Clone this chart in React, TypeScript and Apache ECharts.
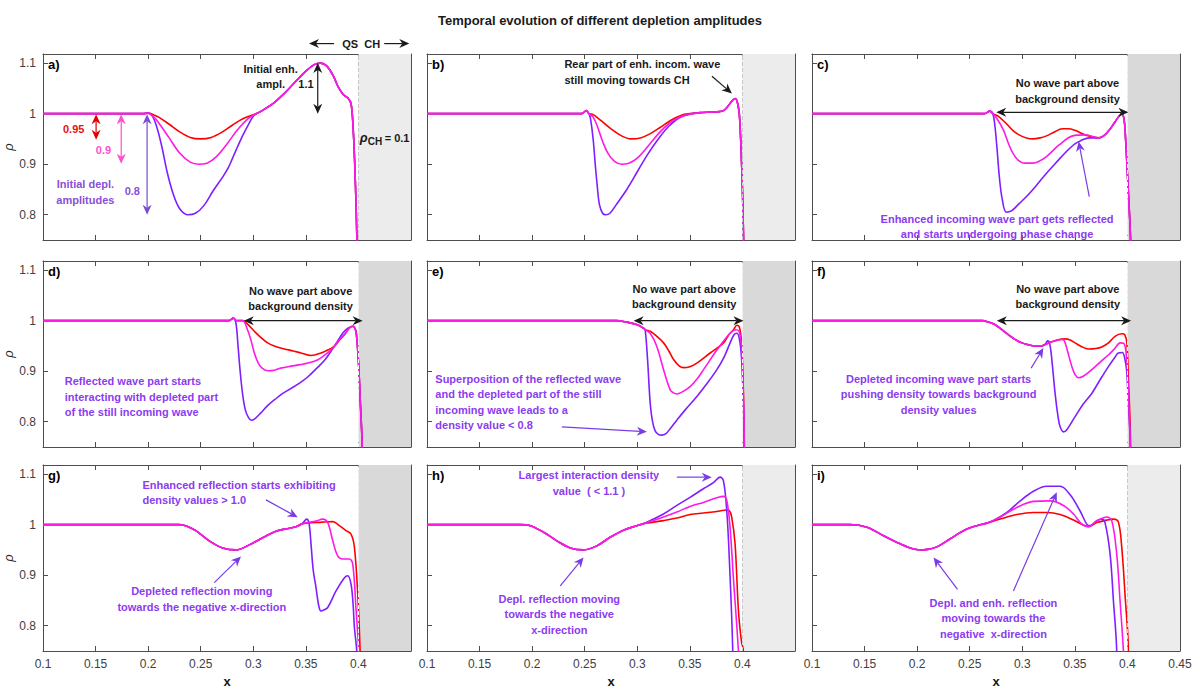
import React, { useEffect, useRef } from "react";
import * as echarts from "echarts";

const FONT = '"Liberation Sans", Arial, sans-serif';
const RED = "#ff0000";
const MAG = "#ff19e6";
const PUR = "#7f1fff";
const TXT_PUR = "#8c3cf0";
const ARR_PUR = "#7a3ce6";
const BLK = "#1a1a1a";
const FRAME = "#4d4d4d";

const PANEL_LABELS = ["a)", "b)", "c)", "d)", "e)", "f)", "g)", "h)", "i)"];
const Y_TICKS = [0.8, 0.9, 1, 1.1];
const SHADE = ["#ececec", "#ececec", "#d9d9d9", "#d9d9d9", "#d9d9d9", "#d9d9d9", "#d9d9d9", "#ececec", "#ececec"];

// a)
const aHead = [[0.1, 1], [0.195, 1], [0.2, 1.001]];
const aRed = [[0.205, 0.998], [0.21, 0.993], [0.22, 0.979], [0.23, 0.964], [0.24, 0.953], [0.25, 0.95], [0.26, 0.953], [0.27, 0.963], [0.28, 0.977], [0.29, 0.99], [0.3, 0.998]];
const aMag = [[0.205, 0.994], [0.21, 0.982], [0.22, 0.952], [0.23, 0.922], [0.24, 0.904], [0.248, 0.9], [0.256, 0.902], [0.265, 0.915], [0.275, 0.94], [0.285, 0.968], [0.295, 0.99], [0.3, 0.997]];
const aPur = [[0.204, 0.995], [0.208, 0.975], [0.213, 0.935], [0.218, 0.885], [0.224, 0.84], [0.23, 0.812], [0.238, 0.8], [0.245, 0.803], [0.253, 0.818], [0.262, 0.848], [0.27, 0.872], [0.276, 0.892], [0.283, 0.925], [0.29, 0.957], [0.295, 0.977], [0.3, 0.995]];
const aTail = [[0.305, 1.002], [0.31, 1.008], [0.32, 1.022], [0.33, 1.041], [0.34, 1.063], [0.35, 1.084], [0.358, 1.097], [0.364, 1.1], [0.37, 1.094], [0.376, 1.075], [0.381, 1.052], [0.386, 1.037], [0.39, 1.031], [0.393, 1.02], [0.395, 0.97], [0.3965, 0.9], [0.398, 0.8], [0.399, 0.7]];

// b)
const bHead = [[0.1, 1], [0.247, 1], [0.2515, 1.006], [0.254, 1.0]];
const bRed = [[0.258, 0.998], [0.265, 0.987], [0.275, 0.97], [0.285, 0.956], [0.294, 0.95], [0.303, 0.952], [0.312, 0.96], [0.322, 0.973], [0.332, 0.987], [0.342, 0.997], [0.35, 1.0]];
const bMag = [[0.258, 0.993], [0.262, 0.975], [0.267, 0.945], [0.272, 0.922], [0.278, 0.906], [0.285, 0.9], [0.292, 0.902], [0.3, 0.912], [0.31, 0.935], [0.32, 0.96], [0.33, 0.98], [0.34, 0.993], [0.35, 0.999]];
const bPur = [[0.2555, 0.99], [0.258, 0.95], [0.26, 0.9], [0.262, 0.855], [0.264, 0.82], [0.267, 0.803], [0.27, 0.8], [0.274, 0.803], [0.28, 0.82], [0.29, 0.85], [0.3, 0.885], [0.31, 0.92], [0.32, 0.95], [0.33, 0.975], [0.34, 0.992], [0.35, 0.999]];
const bTail = [[0.36, 1.002], [0.37, 1.003], [0.378, 1.004], [0.382, 1.006], [0.386, 1.014], [0.39, 1.025], [0.393, 1.03], [0.395, 1.024], [0.397, 1.0], [0.3985, 0.94], [0.4, 0.85], [0.401, 0.76], [0.4015, 0.7]];

// c)
const cHead = [[0.1, 1], [0.264, 1], [0.269, 1.005], [0.272, 1.0]];
const cRed = [[0.277, 0.995], [0.285, 0.98], [0.291, 0.967], [0.297, 0.958], [0.304, 0.952], [0.31, 0.95], [0.317, 0.952], [0.323, 0.956], [0.33, 0.963], [0.338, 0.97], [0.344, 0.97], [0.35, 0.967], [0.36, 0.958], [0.373, 0.952]];
const cMag = [[0.276, 0.99], [0.282, 0.968], [0.287, 0.94], [0.291, 0.922], [0.296, 0.908], [0.302, 0.902], [0.31, 0.902], [0.317, 0.907], [0.323, 0.915], [0.335, 0.938], [0.348, 0.956], [0.36, 0.958], [0.373, 0.952]];
const cPur = [[0.274, 0.975], [0.276, 0.93], [0.2784, 0.87], [0.281, 0.83], [0.2847, 0.805], [0.29, 0.808], [0.297, 0.822], [0.304, 0.836], [0.313, 0.857], [0.323, 0.882], [0.333, 0.905], [0.342, 0.925], [0.35, 0.94], [0.356, 0.947], [0.364, 0.952], [0.373, 0.952]];
const cTail = [[0.378, 0.957], [0.383, 0.968], [0.388, 0.983], [0.392, 0.995], [0.395, 1.0], [0.397, 0.985], [0.398, 0.96], [0.4, 0.88], [0.402, 0.8], [0.403, 0.75], [0.4035, 0.7]];

// d)
const dHead = [[0.1, 1], [0.277, 1], [0.281, 1.005]];
const dRed = [[0.284, 1.0], [0.29, 1.0], [0.295, 0.992], [0.301, 0.979], [0.307, 0.967], [0.3136, 0.956], [0.32, 0.95], [0.3295, 0.944], [0.338, 0.94], [0.3454, 0.936], [0.355, 0.931], [0.3645, 0.936], [0.372, 0.943], [0.377, 0.949], [0.383, 0.964], [0.387, 0.973], [0.39, 0.982]];
const dMag = [[0.284, 1.0], [0.29, 1.0], [0.2945, 0.982], [0.298, 0.96], [0.301, 0.936], [0.305, 0.915], [0.309, 0.905], [0.314, 0.901], [0.32, 0.902], [0.326, 0.906], [0.336, 0.91], [0.345, 0.913], [0.352, 0.916], [0.361, 0.922], [0.37, 0.935], [0.377, 0.949], [0.383, 0.965], [0.387, 0.973], [0.39, 0.982]];
const dPur = [[0.2835, 0.995], [0.2855, 0.95], [0.2875, 0.9], [0.29, 0.852], [0.2925, 0.823], [0.2955, 0.808], [0.298, 0.803], [0.301, 0.805], [0.307, 0.817], [0.3136, 0.832], [0.32, 0.843], [0.328, 0.856], [0.336, 0.866], [0.345, 0.878], [0.352, 0.889], [0.36, 0.905], [0.368, 0.922], [0.375, 0.943], [0.38, 0.959], [0.385, 0.975], [0.39, 0.985]];
const dTail = [[0.393, 0.988], [0.395, 0.989], [0.397, 0.983], [0.398, 0.975], [0.4, 0.92], [0.402, 0.83], [0.4035, 0.76], [0.404, 0.7]];

// e)
const eHead = [[0.1, 1], [0.28, 1], [0.29, 0.997], [0.3, 0.992], [0.306, 0.985]];
const eRed = [[0.3075, 0.982], [0.3123, 0.979], [0.318, 0.97], [0.325, 0.956], [0.33, 0.94], [0.3345, 0.923], [0.34, 0.91], [0.344, 0.907], [0.35, 0.909], [0.3567, 0.916], [0.3693, 0.936], [0.382, 0.956], [0.387, 0.972], [0.3915, 0.982], [0.3947, 0.991], [0.397, 0.988], [0.399, 0.96], [0.4005, 0.89], [0.4015, 0.8], [0.402, 0.7]];
const eMag = [[0.3075, 0.982], [0.3123, 0.975], [0.3186, 0.949], [0.325, 0.903], [0.3313, 0.863], [0.3345, 0.857], [0.3376, 0.855], [0.342, 0.858], [0.35, 0.869], [0.357, 0.885], [0.363, 0.903], [0.3757, 0.942], [0.3883, 0.975], [0.394, 0.982], [0.397, 0.978], [0.399, 0.95], [0.4005, 0.88], [0.4015, 0.8], [0.402, 0.7]];
const ePur = [[0.3075, 0.982], [0.3098, 0.922], [0.3123, 0.836], [0.3145, 0.8], [0.317, 0.782], [0.32, 0.775], [0.323, 0.7735], [0.327, 0.776], [0.332, 0.788], [0.3376, 0.803], [0.345, 0.822], [0.3567, 0.85], [0.365, 0.872], [0.3757, 0.903], [0.383, 0.93], [0.3883, 0.956], [0.392, 0.972], [0.3947, 0.975], [0.397, 0.965], [0.399, 0.93], [0.4005, 0.86], [0.4015, 0.78], [0.402, 0.7]];

// f)
const fHead = [[0.1, 1], [0.262, 1], [0.268, 0.997], [0.2742, 0.992], [0.28, 0.983], [0.2869, 0.972], [0.293, 0.963], [0.2996, 0.956], [0.306, 0.952], [0.3122, 0.95], [0.3186, 0.95]];
const fRed = [[0.322, 0.953], [0.328, 0.958], [0.334, 0.962], [0.3407, 0.964], [0.345, 0.962], [0.3502, 0.956], [0.356, 0.949], [0.3629, 0.944], [0.37, 0.945], [0.3756, 0.948], [0.382, 0.956], [0.3882, 0.969], [0.3946, 0.974], [0.3975, 0.972], [0.3995, 0.955], [0.401, 0.88], [0.4025, 0.8], [0.4035, 0.7]];
const fMag = [[0.322, 0.953], [0.328, 0.958], [0.3344, 0.962], [0.3376, 0.963], [0.34, 0.96], [0.343, 0.94], [0.347, 0.91], [0.3502, 0.893], [0.3534, 0.887], [0.358, 0.89], [0.3661, 0.903], [0.3756, 0.921], [0.3819, 0.932], [0.388, 0.945], [0.393, 0.956], [0.3965, 0.955], [0.3985, 0.94], [0.4, 0.9], [0.4015, 0.83], [0.4025, 0.77], [0.403, 0.7]];
const fPur = [[0.322, 0.954], [0.324, 0.96], [0.326, 0.955], [0.3281, 0.923], [0.3312, 0.856], [0.334, 0.81], [0.336, 0.79], [0.3392, 0.78], [0.342, 0.783], [0.3502, 0.81], [0.358, 0.835], [0.3661, 0.856], [0.374, 0.883], [0.3819, 0.909], [0.388, 0.927], [0.3914, 0.936], [0.3952, 0.937], [0.3975, 0.925], [0.3993, 0.9], [0.401, 0.83], [0.4025, 0.77], [0.403, 0.7]];

// g)
const gHead = [[0.1, 1], [0.2295, 1], [0.237, 0.997], [0.2454, 0.988], [0.2581, 0.968], [0.2708, 0.954], [0.2835, 0.95], [0.2962, 0.96], [0.3089, 0.974], [0.3216, 0.987], [0.3343, 0.993], [0.3406, 0.996]];
const gRed = [[0.347, 1.002], [0.366, 1.005], [0.3756, 1.006], [0.3819, 0.998], [0.3883, 0.988], [0.393, 0.981], [0.3962, 0.955], [0.3994, 0.86], [0.4016, 0.75], [0.402, 0.7]];
const gMag = [[0.347, 1.002], [0.3597, 1.007], [0.366, 1.011], [0.3708, 1.004], [0.3756, 0.968], [0.3803, 0.938], [0.3851, 0.932], [0.3914, 0.932], [0.3946, 0.922], [0.3978, 0.83], [0.4003, 0.75], [0.401, 0.7]];
const gPur = [[0.3438, 0.998], [0.347, 1.003], [0.3508, 1.011], [0.353, 1.003], [0.3549, 0.962], [0.357, 0.91], [0.3597, 0.875], [0.3622, 0.84], [0.3644, 0.829], [0.367, 0.831], [0.3708, 0.836], [0.3787, 0.869], [0.3867, 0.895], [0.3898, 0.899], [0.393, 0.882], [0.395, 0.84], [0.3962, 0.796], [0.3984, 0.75], [0.399, 0.7]];

// h)
const hHead = [[0.1, 1], [0.1887, 1], [0.1982, 0.998], [0.2109, 0.985], [0.2235, 0.968], [0.2362, 0.954], [0.2489, 0.95], [0.2615, 0.958], [0.2742, 0.975], [0.2869, 0.989], [0.2996, 0.998], [0.306, 1.002]];
const hRed = [[0.3122, 1.004], [0.3249, 1.008], [0.3376, 1.013], [0.3502, 1.02], [0.3629, 1.023], [0.3756, 1.026], [0.3851, 1.029], [0.3875, 1.028], [0.3898, 1.015], [0.393, 0.962], [0.3962, 0.83], [0.399, 0.77], [0.4009, 0.75], [0.401, 0.7]];
const hMag = [[0.3122, 1.006], [0.3249, 1.015], [0.3376, 1.025], [0.3502, 1.036], [0.3629, 1.044], [0.3756, 1.053], [0.3819, 1.056], [0.3851, 1.048], [0.3882, 0.995], [0.3914, 0.895], [0.3962, 0.75], [0.397, 0.7]];
const hPur = [[0.3122, 1.008], [0.3249, 1.021], [0.3376, 1.038], [0.3502, 1.054], [0.3629, 1.071], [0.3724, 1.083], [0.3787, 1.094], [0.3819, 1.087], [0.3851, 1.028], [0.3876, 0.929], [0.3908, 0.75], [0.391, 0.7]];

// i)
const iHead = [[0.1, 1], [0.1364, 1], [0.1523, 0.995], [0.1681, 0.978], [0.1839, 0.962], [0.1966, 0.952], [0.2061, 0.95], [0.2188, 0.956], [0.2315, 0.972], [0.2441, 0.988], [0.2568, 0.998], [0.2663, 1.003]];
const iRed = [[0.279, 1.011], [0.2948, 1.02], [0.3106, 1.024], [0.3233, 1.024], [0.336, 1.02], [0.3487, 1.009], [0.3582, 0.999], [0.3629, 0.996], [0.3708, 1.004], [0.3803, 1.009], [0.3867, 1.011], [0.3914, 1.005], [0.3946, 0.955], [0.3977, 0.862], [0.4009, 0.75], [0.401, 0.7]];
const iMag = [[0.279, 1.015], [0.2948, 1.034], [0.3106, 1.046], [0.3265, 1.047], [0.3391, 1.038], [0.3487, 1.021], [0.3566, 1.001], [0.3629, 0.996], [0.3708, 1.007], [0.3803, 1.015], [0.3851, 1.008], [0.3898, 0.942], [0.393, 0.849], [0.3962, 0.75], [0.397, 0.7]];
const iPur = [[0.2726, 1.008], [0.2853, 1.024], [0.298, 1.047], [0.3106, 1.066], [0.3233, 1.076], [0.336, 1.076], [0.3455, 1.059], [0.355, 1.027], [0.3613, 1.001], [0.3645, 0.998], [0.3708, 1.008], [0.3756, 1.011], [0.3787, 1.004], [0.3835, 0.942], [0.3867, 0.849], [0.3898, 0.75], [0.39, 0.7]];

const PANELS = [
  { red: [...aHead, ...aRed, ...aTail], mag: [...aHead, ...aMag, ...aTail], pur: [...aHead, ...aPur, ...aTail] },
  { red: [...bHead, ...bRed, ...bTail], mag: [...bHead, ...bMag, ...bTail], pur: [...bHead, ...bPur, ...bTail] },
  { red: [...cHead, ...cRed, ...cTail], mag: [...cHead, ...cMag, ...cTail], pur: [...cHead, ...cPur, ...cTail] },
  { red: [...dHead, ...dRed, ...dTail], mag: [...dHead, ...dMag, ...dTail], pur: [...dHead, ...dPur, ...dTail] },
  { red: [...eHead, ...eRed], mag: [...eHead, ...eMag], pur: [...eHead, ...ePur] },
  { red: [...fHead, ...fRed], mag: [...fHead, ...fMag], pur: [...fHead, ...fPur] },
  { red: [...gHead, ...gRed], mag: [...gHead, ...gMag], pur: [...gHead, ...gPur] },
  { red: [...hHead, ...hRed], mag: [...hHead, ...hMag], pur: [...hHead, ...hPur] },
  { red: [...iHead, ...iRed], mag: [...iHead, ...iMag], pur: [...iHead, ...iPur] },
];

// annotations (panel index, data coordinates)
const NOTES = [
  { p: 0, x: 0.1292, y: 0.9703, t: "0.95", c: "#e81010", a: "center" },
  { p: 0, x: 0.1575, y: 0.9287, t: "0.9", c: "#ff4fd0", a: "center" },
  { p: 0, x: 0.1849, y: 0.8475, t: "0.8", c: "#8a4fd6", a: "center" },
  { p: 0, x: 0.1403, y: 0.8446, t: "Initial depl.\namplitudes", c: "#8a4fd6", a: "center" },
  { p: 0, x: 0.3165, y: 1.0739, t: "Initial enh.\nampl.", c: BLK, a: "center" },
  { p: 0, x: 0.3501, y: 1.058, t: "1.1", c: BLK, a: "center" },
  { p: 0, x: 0.4026, y: 1.1386, t: "QS  CH", c: BLK, a: "center" },
  { p: 1, x: 0.2307, y: 1.082, t: "Rear part of enh. incom. wave\nstill moving towards CH", c: BLK, a: "left" },
  { p: 2, x: 0.343, y: 1.045, t: "No wave part above\nbackground density", c: BLK, a: "center" },
  { p: 2, x: 0.276, y: 0.7765, t: "Enhanced incoming wave part gets reflected\nand starts undergoing phase change", c: TXT_PUR, a: "center" },
  { p: 3, x: 0.345, y: 1.0434, t: "No wave part above\nbackground density", c: BLK, a: "center" },
  { p: 3, x: 0.1207, y: 0.849, t: "Reflected wave part starts\ninteracting with depleted part\nof the still incoming wave", c: TXT_PUR, a: "left" },
  { p: 4, x: 0.3446, y: 1.048, t: "No wave part above\nbackground density", c: BLK, a: "center" },
  { p: 4, x: 0.1079, y: 0.8392, t: "Superposition of the reflected wave\nand the depleted part of the still\nincoming wave leads to a\ndensity value < 0.8", c: TXT_PUR, a: "left" },
  { p: 5, x: 0.3433, y: 1.048, t: "No wave part above\nbackground density", c: BLK, a: "center" },
  { p: 5, x: 0.2204, y: 0.8543, t: "Depleted incoming wave part starts\npushing density towards background\ndensity values", c: TXT_PUR, a: "center" },
  { p: 6, x: 0.1946, y: 1.064, t: "Enhanced reflection starts exhibiting\ndensity values > 1.0", c: TXT_PUR, a: "left" },
  { p: 6, x: 0.251, y: 0.8533, t: "Depleted reflection moving\ntowards the negative x-direction", c: TXT_PUR, a: "center" },
  { p: 7, x: 0.254, y: 1.0825, t: "Largest interaction density\nvalue  ( < 1.1 )", c: TXT_PUR, a: "center" },
  { p: 7, x: 0.2258, y: 0.8225, t: "Depl. reflection moving\ntowards the negative\nx-direction", c: TXT_PUR, a: "center" },
  { p: 8, x: 0.2726, y: 0.815, t: "Depl. and enh. reflection\nmoving towards the\nnegative  x-direction", c: TXT_PUR, a: "center" },
];

const ARROWS = [
  { p: 0, f: [0.1505, 0.999], t: [0.1505, 0.9485], c: "#e00000", both: true },
  { p: 0, f: [0.1744, 0.999], t: [0.1744, 0.901], c: "#ff4fd0", both: true },
  { p: 0, f: [0.199, 0.999], t: [0.199, 0.8], c: "#7b4bd1", both: true },
  { p: 0, f: [0.3613, 1.1], t: [0.3613, 1.0], c: BLK, both: true },
  { p: 0, f: [0.3768, 1.1386], t: [0.353, 1.1386], c: BLK, both: false },
  { p: 0, f: [0.4245, 1.1386], t: [0.4484, 1.1386], c: BLK, both: false },
  { p: 1, f: [0.371, 1.074], t: [0.39, 1.04], c: BLK, both: false },
  { p: 2, f: [0.2752, 1.0026], t: [0.4009, 1.0026], c: BLK, both: true },
  { p: 2, f: [0.3637, 0.8358], t: [0.3536, 0.945], c: ARR_PUR, both: false },
  { p: 3, f: [0.291, 1.0], t: [0.404, 1.0], c: BLK, both: true },
  { p: 4, f: [0.2965, 1.0], t: [0.401, 1.0], c: BLK, both: true },
  { p: 4, f: [0.2283, 0.79], t: [0.3091, 0.78], c: ARR_PUR, both: false },
  { p: 5, f: [0.2758, 1.0], t: [0.4035, 1.0], c: BLK, both: true },
  { p: 5, f: [0.3084, 0.906], t: [0.3201, 0.9457], c: ARR_PUR, both: false },
  { p: 6, f: [0.312, 1.049], t: [0.3422, 1.0146], c: ARR_PUR, both: false },
  { p: 6, f: [0.2629, 0.8854], t: [0.2883, 0.937], c: ARR_PUR, both: false },
  { p: 7, f: [0.3376, 1.094], t: [0.3708, 1.094], c: ARR_PUR, both: false },
  { p: 7, f: [0.2267, 0.8788], t: [0.2489, 0.9351], c: ARR_PUR, both: false },
  { p: 8, f: [0.2384, 0.872], t: [0.2156, 0.935], c: ARR_PUR, both: false },
  { p: 8, f: [0.2916, 0.8689], t: [0.3328, 1.0642], c: ARR_PUR, both: false },
];

const GL = [43, 427, 812];
const GT = [54, 261, 465];
const GW = 368;
const GH = 186;

function fmt(v: number) {
  return String(Math.round(v * 100) / 100);
}

function arrowEls(a: number[], b: number[], color: string, both: boolean) {
  const L = 10, W = 4.5;
  const dx = b[0] - a[0], dy = b[1] - a[1];
  const len = Math.hypot(dx, dy) || 1;
  const ux = dx / len, uy = dy / len;
  const nx = -uy, ny = ux;
  const head = (t: number[], sx: number, sy: number) => {
    const bx = t[0] - sx * L, by = t[1] - sy * L;
    const nxp = t[0] - sx * L * 0.7, nyp = t[1] - sy * L * 0.7;
    return {
      type: "polygon",
      silent: true,
      z: 101,
      shape: { points: [[t[0], t[1]], [bx + nx * W, by + ny * W], [nxp, nyp], [bx - nx * W, by - ny * W]] },
      style: { fill: color },
    };
  };
  const s = both ? [a[0] + ux * L * 0.7, a[1] + uy * L * 0.7] : a;
  const e = [b[0] - ux * L * 0.7, b[1] - uy * L * 0.7];
  const els: any[] = [
    { type: "line", silent: true, z: 100, shape: { x1: s[0], y1: s[1], x2: e[0], y2: e[1] }, style: { stroke: color, lineWidth: 1.2 } },
    head(b, ux, uy),
  ];
  if (both) els.push(head(a, -ux, -uy));
  return els;
}

function textEl(x: number, y: number, text: string, color: string, align: string, size = 11, extra: any = {}) {
  return {
    type: "text",
    silent: true,
    z: 102,
    x,
    y,
    style: {
      text,
      fill: color,
      fontSize: size,
      fontWeight: "bold",
      fontFamily: FONT,
      align,
      textAlign: align,
      verticalAlign: "middle",
      textVerticalAlign: "middle",
      lineHeight: 15.5,
      ...extra,
    },
  };
}

export default function App() {
  const ref = useRef<HTMLDivElement>(null);
  useEffect(() => {
    if (!ref.current) return;
    const chart = echarts.init(ref.current, null, { renderer: "svg" });
    const grid: any[] = [];
    const xAxis: any[] = [];
    const yAxis: any[] = [];
    const series: any[] = [];
    for (let i = 0; i < 9; i++) {
      const col = i % 3, row = Math.floor(i / 3);
      grid.push({ left: GL[col], top: GT[row], width: GW, height: GH, containLabel: false, outerBoundsMode: "none" });
      const axLine = { show: true, onZero: false, lineStyle: { color: FRAME, width: 1 } };
      const tick = { show: true, inside: true, length: 5, lineStyle: { color: FRAME } };
      const lastCol = col === 2;
      for (const pos of ["bottom", "top"]) {
        const bottom = pos === "bottom";
        xAxis.push({
          gridIndex: i,
          type: "value",
          position: pos,
          min: 0.1,
          max: 0.45,
          interval: 0.05,
          axisLine: axLine,
          axisTick: tick,
          splitLine: { show: false },
          axisLabel: {
            show: bottom && row === 2,
            margin: 7,
            fontSize: 12,
            color: "#404040",
            fontFamily: FONT,
            showMinLabel: true,
            showMaxLabel: true,
            formatter: (v: number) => (v > 0.449 && !lastCol ? "" : fmt(v)),
          },
          name: bottom && row === 2 ? "x" : "",
          nameLocation: "middle",
          nameGap: 24,
          nameTextStyle: { fontSize: 13, fontWeight: "bold", color: BLK, fontFamily: FONT },
        });
      }
      for (const pos of ["left", "right"]) {
        const left = pos === "left";
        yAxis.push({
          gridIndex: i,
          type: "value",
          position: pos,
          min: 0.75,
          max: 1.118,
          axisLine: axLine,
          axisTick: { ...tick, customValues: Y_TICKS },
          splitLine: { show: false },
          axisLabel: {
            show: left && col === 0,
            customValues: Y_TICKS,
            margin: 7,
            fontSize: 12,
            color: "#404040",
            fontFamily: FONT,
            formatter: (v: number) => fmt(v),
          },
          name: left && col === 0 ? "ρ" : "",
          nameLocation: "middle",
          nameGap: 26,
          nameRotate: 90,
          nameTextStyle: { fontSize: 13, fontStyle: "italic", color: "#262626", fontFamily: FONT },
        });
      }
      const pn = PANELS[i];
      const light = SHADE[i] === "#ececec";
      const mk = (data: number[][], color: string, first: boolean) => ({
        type: "line",
        xAxisIndex: 2 * i,
        yAxisIndex: 2 * i,
        data,
        symbol: "none",
        showSymbol: false,
        smooth: 0.35,
        silent: true,
        clip: true,
        lineStyle: { color, width: 1.6 },
        itemStyle: { color },
        emphasis: { disabled: true },
        ...(first
          ? {
              markArea: { silent: true, itemStyle: { color: SHADE[i] }, data: [[{ xAxis: 0.4 }, { xAxis: 0.45 }]] },
              markLine: {
                silent: true,
                symbol: ["none", "none"],
                label: { show: false },
                lineStyle: { type: "dashed", color: light ? "#c8c8c8" : "#f2f2f2", width: 1 },
                data: [{ xAxis: 0.4 }],
              },
            }
          : {}),
      });
      series.push(mk(pn.red, RED, true), mk(pn.pur, PUR, false), mk(pn.mag, MAG, false));
    }

    chart.setOption({
      animation: false,
      backgroundColor: "#ffffff",
      title: {
        text: "Temporal evolution of different depletion amplitudes",
        left: "center",
        top: 9,
        textStyle: { fontSize: 13, fontWeight: "bold", color: BLK, fontFamily: FONT },
      },
      grid,
      xAxis,
      yAxis,
      series,
    });

    const P = (p: number, x: number, y: number) =>
      chart.convertToPixel({ xAxisIndex: 2 * p, yAxisIndex: 2 * p } as any, [x, y]) as number[];

    const graphic: any[] = [];
    for (let i = 0; i < 9; i++) {
      const col = i % 3, row = Math.floor(i / 3);
      graphic.push(textEl(GL[col] + 5, GT[row] + 10, PANEL_LABELS[i], "#000000", "left", 13));
    }
    for (const n of NOTES) {
      const [px, py] = P(n.p, n.x, n.y);
      graphic.push(textEl(px, py, n.t, n.c, n.a));
    }
    for (const a of ARROWS) {
      graphic.push(...arrowEls(P(a.p, a.f[0], a.f[1]), P(a.p, a.t[0], a.t[1]), a.c, a.both));
    }
    const [rx, ry] = P(0, 0.4012, 0.952);
    graphic.push(textEl(rx, ry, "ρ", BLK, "left", 13, { fontStyle: "italic" }));
    graphic.push(textEl(rx + 8, ry + 4, "CH", BLK, "left", 10));
    graphic.push(textEl(rx + 25, ry, "= 0.1", BLK, "left", 11));

    chart.setOption({ graphic });
    return () => chart.dispose();
  }, []);
  return <div ref={ref} style={{ position: "absolute", left: 0, top: 0, width: 1200, height: 695 }} />;
}
